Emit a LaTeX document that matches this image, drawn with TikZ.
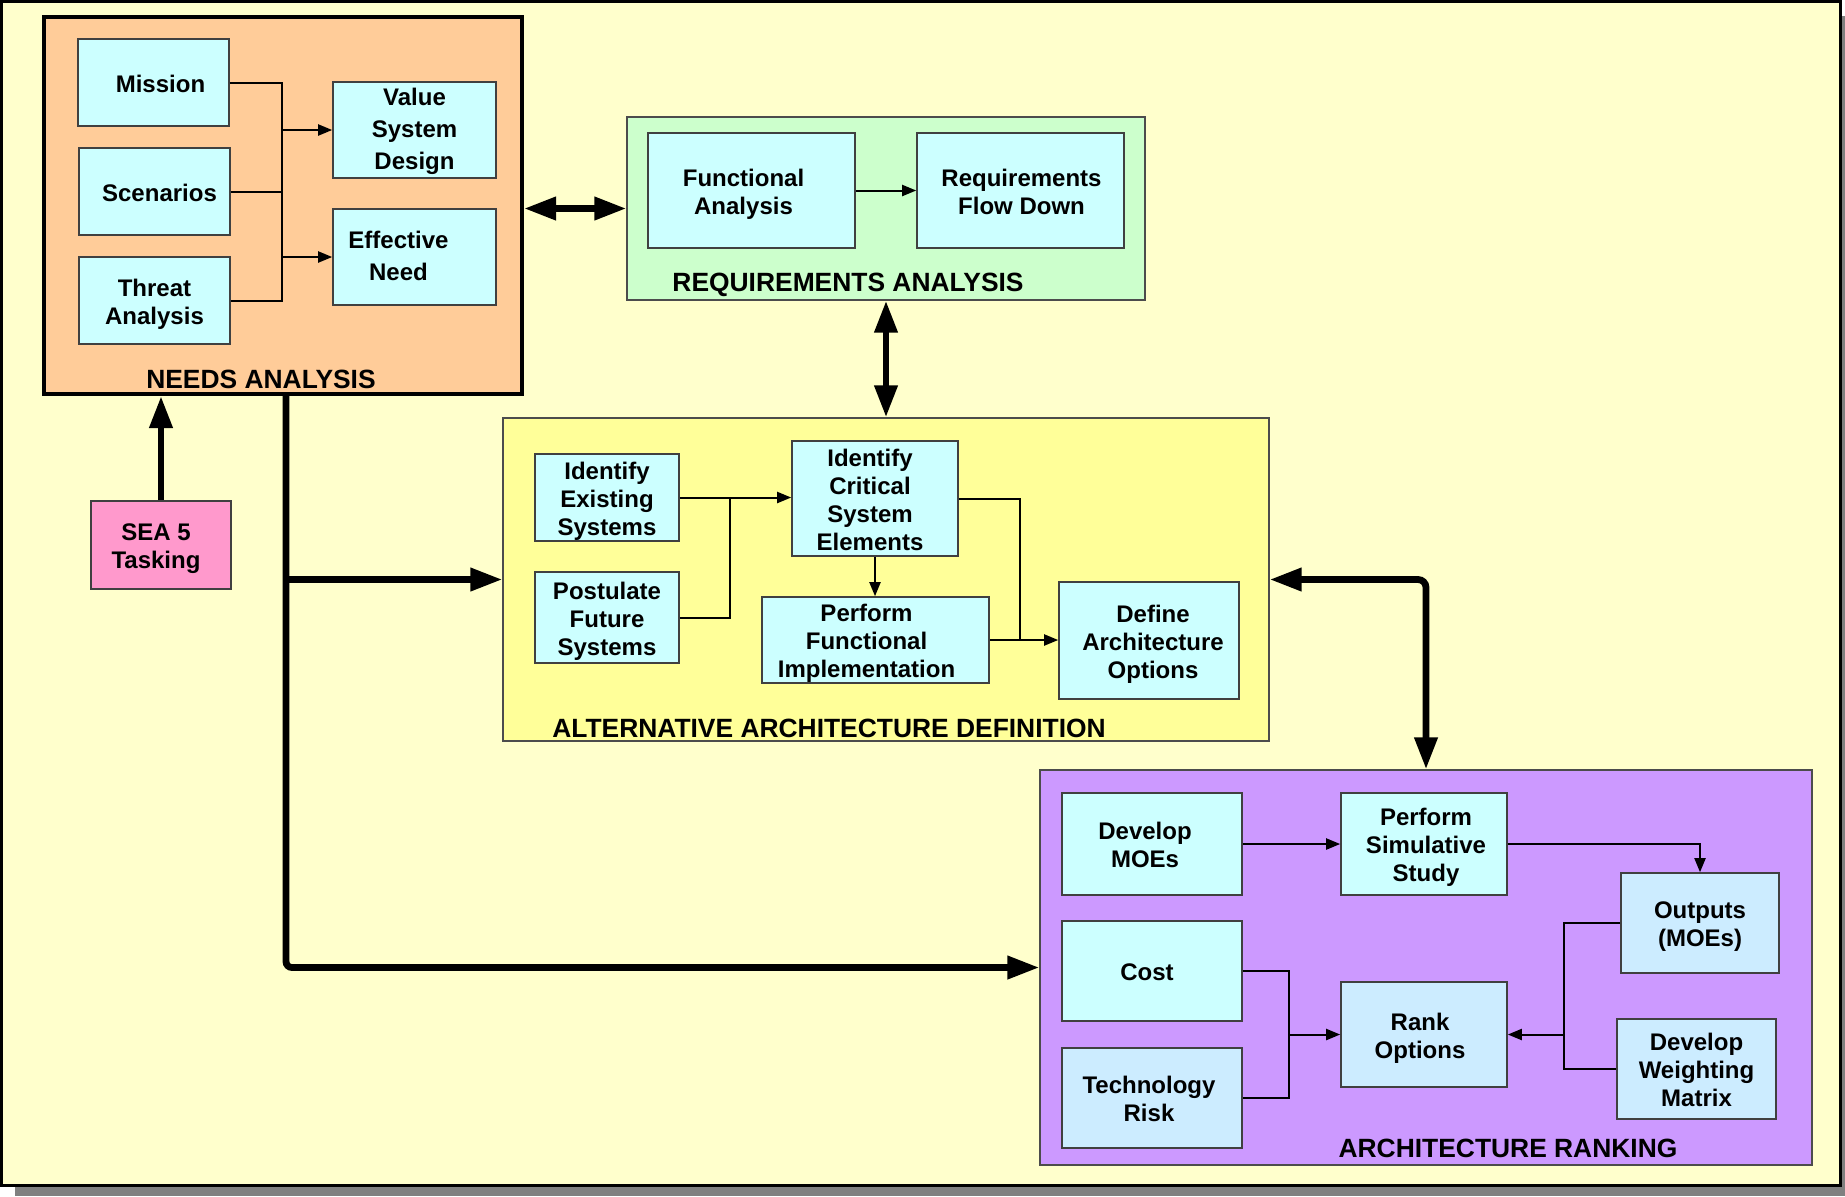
\documentclass[tikz,border=0pt]{standalone}
\usepackage{fontspec}
\setmainfont{Liberation Sans}
\usetikzlibrary{arrows.meta}

\definecolor{paper}{HTML}{FFFFCC}
\definecolor{shadowgray}{HTML}{808080}
\definecolor{needsfill}{HTML}{FFCC99}
\definecolor{reqfill}{HTML}{CCFFCC}
\definecolor{altfill}{HTML}{FFFF99}
\definecolor{rankfill}{HTML}{CC99FF}
\definecolor{seafill}{HTML}{FF99CC}
\definecolor{cyanbox}{HTML}{CCFFFF}
\definecolor{bluebox}{HTML}{CCECFF}

% box text: centred lines, dropped \btdrop below the middle of the box and
% nudged sideways by #1 pt; the text takes no room, so boxes keep their size
\newsavebox\btbox
\newcommand\btdrop{0.5pt}
\newcommand\bt[2][0]{\sbox\btbox{\begin{tabular}[t]{@{}c@{}}#2\end{tabular}}%
  \hspace*{#1pt}\raisebox{\dimexpr-\btdrop-4.3pt+0.2\baselineskip-(\ht\btbox-\dp\btbox)/2\relax}[0pt][0pt]{\usebox\btbox}\hspace*{-#1pt}}

\begin{document}
\begin{tikzpicture}[x=0.5pt,y=-0.5pt,
  sz/.style 2 args={minimum width=#1*0.5pt, minimum height=#2*0.5pt},
  blk/.style={draw=black!75, line width=0.8pt, fill=cyanbox, inner sep=0pt,
    font=\fontsize{12}{14}\selectfont\bfseries},
  wideblk/.style={blk, font=\fontsize{12}{16}\selectfont\bfseries\renewcommand\btdrop{-0.8pt}},
  section/.style={draw=black!70, line width=0.6pt, inner sep=0pt},
  title/.style={font=\fontsize{13.2}{15}\selectfont\bfseries, inner sep=0pt},
  conn/.style={line width=1pt, -{Triangle[length=7pt,width=5.5pt]}},
  plain/.style={line width=1pt},
  big/.style={line width=3.4pt, arrows={-Triangle[length=16pt,width=11pt]}},
  bigboth/.style={line width=3.4pt, arrows={Triangle[length=16pt,width=11pt]-Triangle[length=16pt,width=11pt]}},
]
\useasboundingbox (0,0) rectangle (1845,1196);

% page with drop shadow
\fill[shadowgray] (15,16) rectangle (1845,1196);
\draw[line width=1.5pt, fill=paper] (1.5,1.5) rectangle (1840.5,1185.5);

% ---------------- section frames ----------------
\node[section, draw=black, line width=2pt, fill=needsfill, sz={478}{377}] (needs) at (283,205.5) {};
\node[section, fill=reqfill, sz={518}{183}] (req) at (886,208.5) {};
\node[section, fill=altfill, sz={766}{323}] (alt) at (886,579.5) {};
\node[section, fill=rankfill, sz={772}{395}] (rank) at (1426,967.5) {};

% ---------------- needs analysis ----------------
\node[blk, sz={151}{87}] (mission) at (153.5,82.5) {\bt[3.5]{Mission}};
\node[blk, sz={151}{87}] (scen) at (154.5,191.5) {\bt[2.5]{Scenarios}};
\node[blk, sz={151}{87}] (threat) at (154.5,300.5) {\bt{Threat\\Analysis}};
\node[wideblk, sz={163}{96}] (value) at (414.5,130) {\bt{Value\\System\\Design}};
\node[wideblk, sz={163}{96}] (eff) at (414.5,257) {\bt[-8]{Effective\\Need}};
\node[title] (needstitle) at (261,379.5) {NEEDS ANALYSIS};

\coordinate (nj) at (282,0);
\draw[plain] (mission.east) -| (nj |- threat.east) -- (threat.east);
\draw[plain] (scen.east) -- (nj |- scen.east);
\draw[conn] (nj |- value.west) -- (value.west);
\draw[conn] (nj |- eff.west) -- (eff.west);

% ---------------- requirements analysis ----------------
\node[blk, sz={207}{115}] (fa) at (751.5,190.5) {\bt[-4]{Functional\\Analysis}};
\node[blk, sz={207}{115}] (rfd) at (1020.5,190.5) {\bt[0.5]{Requirements\\Flow Down}};
\node[title] (reqtitle) at (848,284.5) {REQUIREMENTS ANALYSIS};
\draw[conn] (fa.east) -- (rfd.west);

% ---------------- alternative architecture definition ----------------
\node[blk, sz={144}{87}] (ies) at (607,497.5) {\bt{Identify\\Existing\\Systems}};
\node[blk, sz={144}{91}] (pfs) at (607,617.5) {\bt{Postulate\\Future\\Systems}};
\node[blk, sz={166}{115}] (icse) at (875,498.5) {\bt[-2.5]{Identify\\Critical\\System\\Elements}};
\node[blk, sz={227}{86}] (pfi) at (875.5,640) {\bt[-4.5]{Perform\\Functional\\Implementation}};
\node[blk, sz={180}{117}] (dao) at (1149,640.5) {\bt[2]{Define\\Architecture\\Options}};
\node[title] (alttitle) at (829,728) {ALTERNATIVE ARCHITECTURE DEFINITION};

\coordinate (aj) at (730,0);
\coordinate (bj) at (1020,0);
\draw[conn] (ies.east) -- (ies.east -| icse.west);
\draw[plain] (pfs.east) -| (aj |- ies.east);
\draw[conn] (icse.south) -- (icse.south |- pfi.north);
\draw[plain] (icse.east) -| (bj |- pfi.east);
\draw[conn] (pfi.east) -- (pfi.east -| dao.west);

% ---------------- architecture ranking ----------------
\node[blk, sz={180}{102}] (dmoe) at (1152,844) {\bt[-3.5]{Develop\\MOEs}};
\node[blk, sz={166}{102}] (pss) at (1424,844) {\bt[1]{Perform\\Simulative\\Study}};
\node[blk, fill=bluebox, sz={158}{100}] (outp) at (1700,923) {\bt{Outputs\\(MOEs)}};
\node[blk, sz={180}{100}] (cost) at (1152,971) {\bt[-2.5]{Cost}};
\node[blk, fill=bluebox, sz={180}{100}] (tech) at (1152,1098) {\bt[-1.5]{Technology\\Risk}};
\node[blk, fill=bluebox, sz={166}{105}] (rk) at (1424,1034.5) {\bt[-2]{Rank\\Options}};
\node[blk, fill=bluebox, sz={159}{100}] (dwm) at (1696.5,1069) {\bt{Develop\\Weighting\\Matrix}};
\node[title] (ranktitle) at (1508,1148) {ARCHITECTURE RANKING};

\coordinate (rj) at (1289,0);
\coordinate (oj) at (1564,0);
\draw[conn] (dmoe.east) -- (pss.west);
\draw[conn] (pss.east) -| (outp.north);
\draw[plain] (cost.east) -| (rj |- tech.east) -- (tech.east);
\draw[conn] (rj |- rk.west) -- (rk.west);
\draw[plain] (outp.west) -| (oj |- dwm.west) -- (dwm.west);
\draw[conn] (oj |- rk.east) -- (rk.east);

% ---------------- tasking ----------------
\node[blk, fill=seafill, sz={140}{88}] (sea) at (161,545) {\bt[-2.5]{SEA 5\\Tasking}};

% ---------------- main flow arrows ----------------
\coordinate (trunk) at (286,394);
\draw[big] (sea.north) -- (sea.north |- needs.south);
\draw[bigboth] (req.west -| needs.east) -- (req.west);
\draw[bigboth] (req.south) -- (alt.north);
\draw[bigboth, rounded corners=4pt] (alt.east) -| (rank.north);
\draw[big, rounded corners=3pt] (trunk) |- (rank.west);
\draw[big] (trunk |- alt.west) -- (alt.west);
\end{tikzpicture}
\end{document}
